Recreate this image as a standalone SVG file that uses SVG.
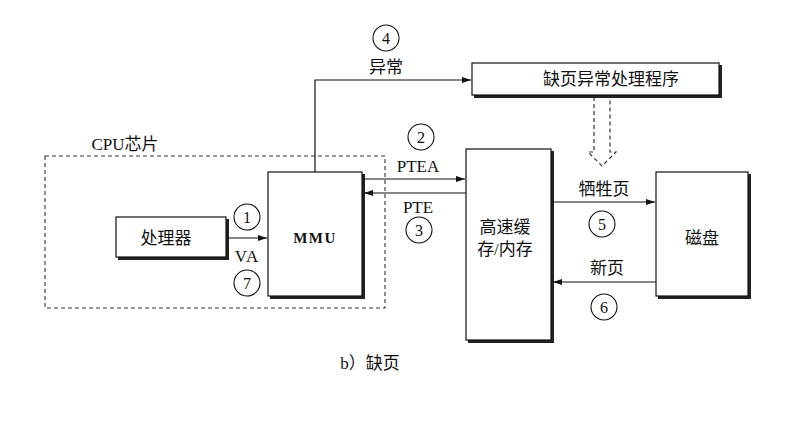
<svg xmlns="http://www.w3.org/2000/svg" width="808" height="424" viewBox="0 0 808 424">
<style>
.box{fill:#fff;stroke:#111;stroke-width:1.2}
.sh{fill:#222}
.ln{fill:none;stroke:#111;stroke-width:1.2}
.cir{fill:none;stroke:#111;stroke-width:1.1}
text{font-family:"Liberation Serif","Noto Sans CJK SC",serif;font-size:17px;fill:#111;text-anchor:middle;dominant-baseline:central}
.num{font-size:16px}
</style>
<defs>
<marker id="ah" markerWidth="9" markerHeight="6" refX="9" refY="3" orient="auto" markerUnits="userSpaceOnUse">
<path d="M0,0 L9,3 L0,6 Z" fill="#111"/>
</marker>
</defs>
<rect width="808" height="424" fill="#fff"/>

<g id="cpu">
<rect x="45" y="156" width="340" height="152" fill="none" stroke="#333" stroke-width="1.1" stroke-dasharray="4,3"/>
<text x="125" y="144">CPU芯片</text>
</g>

<g id="handler">
<rect class="sh" x="474" y="65" width="248" height="33"/>
<rect class="box" x="472" y="63" width="247" height="32"/>
<text x="611" y="79">缺页异常处理程序</text>
</g>

<g id="processor">
<rect class="sh" x="118" y="219" width="111" height="41"/>
<rect class="box" x="116" y="217" width="110" height="40"/>
<text x="166" y="238">处理器</text>
</g>

<g id="mmu">
<rect class="sh" x="270" y="174" width="95" height="125"/>
<rect class="box" x="268" y="172" width="94" height="124"/>
<text x="315" y="238" style="font-weight:bold;font-size:15px;letter-spacing:1.5px">MMU</text>
</g>

<g id="cache">
<rect class="sh" x="468" y="151" width="86" height="192"/>
<rect class="box" x="466" y="149" width="85" height="191"/>
<text x="505" y="227">高速缓</text>
<text x="505" y="249">存/内存</text>
</g>

<g id="disk">
<rect class="sh" x="658" y="174" width="93" height="125"/>
<rect class="box" x="656" y="172" width="92" height="124"/>
<text x="702" y="238">磁盘</text>
</g>

<g id="connectors">
<path class="ln" d="M227,238 H267" marker-end="url(#ah)"/>
<path class="ln" d="M363,179 H465" marker-end="url(#ah)"/>
<path class="ln" d="M466,193 H364" marker-end="url(#ah)"/>
<path class="ln" d="M552,202 H655" marker-end="url(#ah)"/>
<path class="ln" d="M656,282 H553" marker-end="url(#ah)"/>
<path class="ln" d="M315,172 V80 H471" marker-end="url(#ah)"/>
<path d="M594,97 V152 H588 L602,166 L616,152 H610 V97" fill="none" stroke="#333" stroke-width="1.2" stroke-dasharray="4,3"/>
</g>

<g id="labels">
<circle class="cir" cx="386" cy="38" r="13"/><text class="num" x="386" y="38">4</text>
<text x="386" y="67">异常</text>
<circle class="cir" cx="421" cy="137" r="13"/><text class="num" x="421" y="137">2</text>
<text x="418" y="166">PTEA</text>
<text x="418" y="207">PTE</text>
<circle class="cir" cx="419" cy="230" r="13"/><text class="num" x="419" y="230">3</text>
<circle class="cir" cx="247" cy="217" r="13"/><text class="num" x="247" y="217">1</text>
<text x="247" y="256" style="letter-spacing:1px">VA</text>
<circle class="cir" cx="247" cy="283" r="13"/><text class="num" x="247" y="283">7</text>
<text x="604" y="189">牺牲页</text>
<circle class="cir" cx="602" cy="224" r="13"/><text class="num" x="602" y="224">5</text>
<text x="607" y="268">新页</text>
<circle class="cir" cx="604" cy="307" r="13"/><text class="num" x="604" y="307">6</text>
<text x="370" y="363">b）缺页</text>
</g>
</svg>
